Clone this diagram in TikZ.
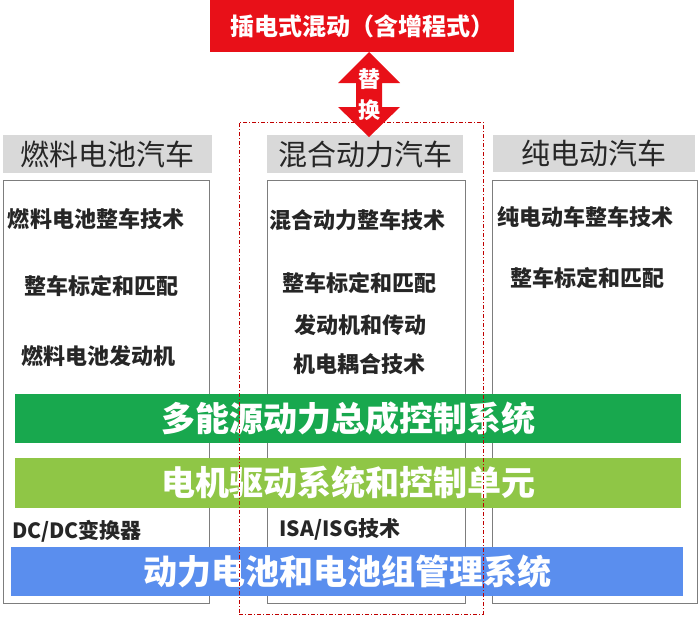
\documentclass[tikz,border=0pt]{standalone}
\usepackage{fontspec}
\setmainfont{Noto Sans CJK SC}
\usepackage{xcolor}
\definecolor{titlered}{RGB}{232,16,24}
\definecolor{headgray}{RGB}{217,217,217}
\definecolor{boxgray}{RGB}{125,125,125}
\definecolor{barGreen}{RGB}{24,168,78}
\definecolor{barLime}{RGB}{143,198,70}
\definecolor{barBlue}{RGB}{90,142,238}
\definecolor{framered}{RGB}{192,0,0}
\tikzset{
    header/.style={fill=headgray, inner sep=0pt, text=black!85, font=\fontsize{29}{34}\selectfont},
    colbox/.style={draw=boxgray, line width=0.8pt, fill=white, inner sep=0pt},
    item/.style={inner sep=0pt, text=black!85, font=\bfseries\fontsize{22}{26}\selectfont},
    smallitem/.style={item, font=\bfseries\fontsize{21}{25}\selectfont},
    bar/.style={inner sep=0pt, text=white, font=\bfseries\fontsize{34}{40}\selectfont},
    swaptext/.style={inner sep=0pt, text=white, font=\bfseries\fontsize{22}{26}\selectfont},
    dashframe/.style={draw=framered, line width=0.8pt, dash pattern=on 4pt off 2pt on 1pt off 2pt}
}

\begin{document}
\begin{tikzpicture}[x=1pt, y=-1pt]
                        \useasboundingbox (0, 0) rectangle (700, 619);
                        \node[header, minimum width=209, minimum height=38] (fchead) at (107.5, 154) {燃料电池汽车};
                        \node[header, minimum width=196, minimum height=38] (hyhead) at (365, 154) {混合动力汽车};
                        \node[header, minimum width=202, minimum height=37] (evhead) at (594, 153.5) {纯电动汽车};
                        \node[colbox, minimum width=206, minimum height=423] (fcbox) at (106, 391.5) {};
                        \node[colbox, minimum width=198, minimum height=423] (hybox) at (366, 391.5) {};
                        \node[colbox, minimum width=205, minimum height=423] (evbox) at (594.5, 391.5) {};
                        \node[item] (fc1) at (96, 219) {燃料电池整车技术};
                        \node[item] (fc2) at (101, 286) {整车标定和匹配};
                        \node[item] (fc3) at (98, 356) {燃料电池发动机};
                        \node[smallitem] (fc4) at (77, 531) {DC/DC变换器};
                        \node[item] (hy1) at (357, 220) {混合动力整车技术};
                        \node[item] (hy2) at (359, 283) {整车标定和匹配};
                        \node[item] (hy3) at (360, 325) {发动机和传动};
                        \node[item] (hy4) at (359, 364) {机电耦合技术};
                        \node[smallitem] (hy5) at (340, 529) {ISA/ISG技术};
                        \node[item] (ev1) at (585, 217) {纯电动车整车技术};
                        \node[item] (ev2) at (587, 278) {整车标定和匹配};
                        \node[bar, fill=barGreen, minimum width=666, minimum height=49] (ctrlbar) at (348, 418.5) {多能源动力总成控制系统};
                        \node[bar, fill=barLime, minimum width=666, minimum height=50] (motorbar) at (348, 483) {电机驱动系统和控制单元};
                        \node[bar, fill=barBlue, minimum width=672, minimum height=49] (battbar) at (347, 571.5) {动力电池和电池组管理系统};
                        \node[dashframe, minimum width=244, minimum height=492] (hyframe) at (361, 368) {};
                        \node[fill=titlered, minimum width=304, minimum height=52, inner sep=0pt, text=white, font=\bfseries\fontsize{24}{28}\selectfont] (plugin) at (362, 26) {插电式混动（含增程式）};
                        \fill[titlered] (369, 52) -- (400, 83) -- (382, 83) -- (382, 107) -- (400, 107) -- (369, 137)
                        -- (338, 107) -- (356, 107) -- (356, 83) -- (338, 83) -- cycle;
                        \node[swaptext] (swapa) at (369, 79) {替};
                        \node[swaptext] (swapb) at (369, 110) {换};
                    \end{tikzpicture}
\end{document}
